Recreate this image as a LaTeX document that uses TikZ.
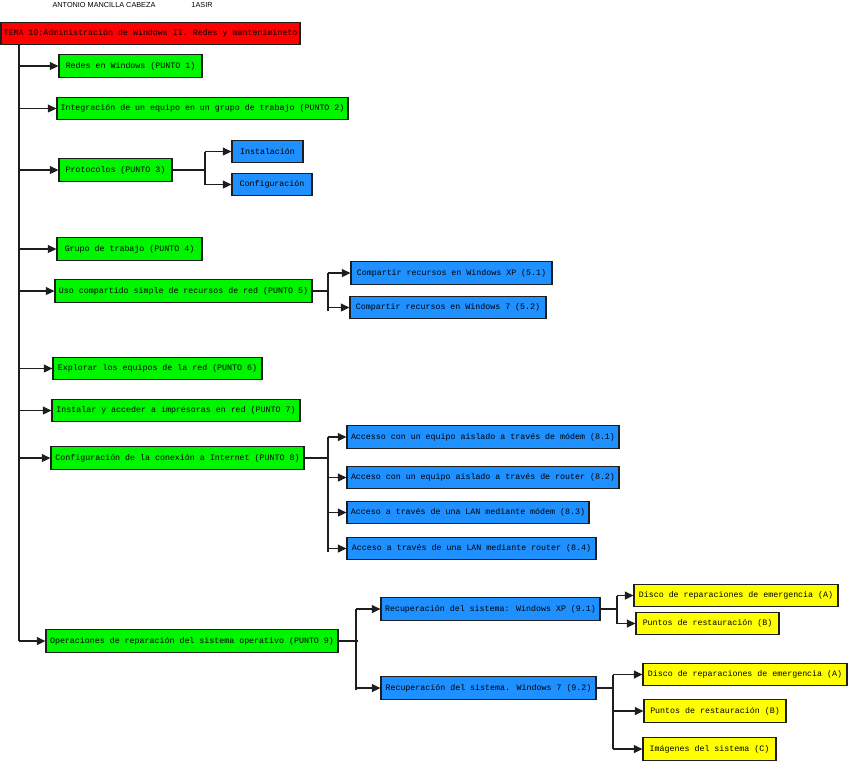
\documentclass[tikz,border=0pt]{standalone}
\usepackage{fontspec}
\newfontfamily\boxfont{Liberation Mono}
\newfontfamily\hdrfont{Liberation Sans}
\usetikzlibrary{arrows.meta}
\definecolor{cred}{RGB}{255,0,0}
\definecolor{cgreen}{RGB}{0,245,0}
\definecolor{cblue}{RGB}{30,144,255}
\definecolor{cyellow}{RGB}{255,255,0}
\definecolor{cline}{RGB}{30,30,30}
\tikzset{
  box/.style={draw=cline, line width=1.3pt, inner sep=0pt, minimum height=22.5pt,
    font=\boxfont\fontsize{8.3}{10}\selectfont, text=black},
  rbox/.style={box, fill=cred},
  gbox/.style={box, fill=cgreen},
  bbox/.style={box, fill=cblue},
  ybox/.style={box, fill=cyellow},
  hdr/.style={font=\hdrfont\fontsize{7.3}{8}\selectfont, inner sep=0pt},
  ln/.style={draw=cline, line width=1.3pt},
  arr/.style={ln, -{Triangle[length=8.5pt,width=8pt]}}
}
\begin{document}
\begin{tikzpicture}[x=1pt,y=-1pt]
\useasboundingbox (0,0) rectangle (848,761);
% header
\node[hdr] (author) at (104,5) {ANTONIO MANCILLA CABEZA};
\node[hdr] (group) at (202,5) {1ASIR};
% title
\node[rbox, minimum width=299pt] (title) at (150.5,33.5) {TEMA 10:Administración de Windows II. Redes y mantenimineto};
% level 1
\node[gbox, minimum width=143pt] (p1) at (130.5,66) {Redes en Windows (PUNTO 1)};
\node[gbox, minimum width=291pt] (p2) at (202.5,108.5) {Integración de un equipo en un grupo de trabajo (PUNTO 2)};
\node[gbox, minimum width=113pt] (p3) at (115.5,170) {Protocolos (PUNTO 3)};
\node[gbox, minimum width=145pt] (p4) at (129.5,249) {Grupo de trabajo (PUNTO 4)};
\node[gbox, minimum width=257pt] (p5) at (183.5,291) {Uso compartido simple de recursos de red (PUNTO 5)};
\node[gbox, minimum width=209pt] (p6) at (157.5,368.5) {Explorar los equipos de la red (PUNTO 6)};
\node[gbox, minimum width=248pt] (p7) at (176,410.5) {Instalar y acceder a impresoras en red (PUNTO 7)};
\node[gbox, minimum width=253pt] (p8) at (177.5,458) {Configuración de la conexión a Internet (PUNTO 8)};
\node[gbox, minimum width=292pt] (p9) at (192,641) {Operaciones de reparación del sistema operativo (PUNTO 9)};
% level 2
\node[bbox, minimum width=71pt] (p3a) at (267.5,151.5) {Instalación};
\node[bbox, minimum width=80pt] (p3b) at (272,184.5) {Configuración};
\node[bbox, minimum width=201pt] (p5a) at (451.5,273) {Compartir recursos en Windows XP (5.1)};
\node[bbox, minimum width=196pt] (p5b) at (448,307.5) {Compartir recursos en Windows 7 (5.2)};
\node[bbox, minimum width=272pt] (p81) at (483,437) {Accesso con un equipo aislado a través de módem (8.1)};
\node[bbox, minimum width=272pt] (p82) at (483,477.5) {Acceso con un equipo aislado a través de router (8.2)};
\node[bbox, minimum width=242pt] (p83) at (468,512.5) {Acceso a través de una LAN mediante módem (8.3)};
\node[bbox, minimum width=249pt] (p84) at (471.5,548.5) {Acceso a través de una LAN mediante router (8.4)};
\node[bbox, minimum width=219pt] (p91) at (490.5,609) {Recuperación del sistema: Windows XP (9.1)};
\node[bbox, minimum width=215pt] (p92) at (488.5,688) {Recuperación del sistema. Windows 7 (9.2)};
% level 3
\node[ybox, minimum width=204pt] (p91a) at (736,595.5) {Disco de reparaciones de emergencia (A)};
\node[ybox, minimum width=143pt] (p91b) at (707.5,623.5) {Puntos de restauración (B)};
\node[ybox, minimum width=204pt] (p92a) at (745,674.5) {Disco de reparaciones de emergencia (A)};
\node[ybox, minimum width=142pt] (p92b) at (715,711) {Puntos de restauración (B)};
\node[ybox, minimum width=133pt] (p92c) at (709.5,749) {Imágenes del sistema (C)};
% trunk
\coordinate (tr) at (19,0);
\draw[ln] (tr |- title.south) -- (tr |- p9.west);
\foreach \n in {p1,p2,p3,p4,p5,p6,p7,p8,p9}
  \draw[arr] (tr |- \n.west) -- (\n.west);
% branch 3
\coordinate (b3) at (205,0);
\draw[ln] (p3.east) -- (b3 |- p3.east);
\draw[ln] (b3 |- p3a.west) -- (b3 |- p3b.west);
\foreach \n in {p3a,p3b} \draw[arr] (b3 |- \n.west) -- (\n.west);
% branch 5
\coordinate (b5) at (328,0);
\draw[ln] (p5.east) -- (b5 |- p5.east);
\draw[ln] (b5 |- p5a.west) -- ([yshift=-3pt]b5 |- p5b.west);
\foreach \n in {p5a,p5b} \draw[arr] (b5 |- \n.west) -- (\n.west);
% branch 8
\coordinate (b8) at (328,0);
\draw[ln] (p8.east) -- (b8 |- p8.east);
\draw[ln] (b8 |- p81.west) -- ([yshift=-3pt]b8 |- p84.west);
\foreach \n in {p81,p82,p83,p84} \draw[arr] (b8 |- \n.west) -- (\n.west);
% branch 9
\coordinate (b9) at (356,0);
\draw[ln] (p9.east) -- ([xshift=2pt]b9 |- p9.east);
\draw[ln] (b9 |- p91.west) -- ([yshift=-2pt]b9 |- p92.west);
\foreach \n in {p91,p92} \draw[arr] (b9 |- \n.west) -- (\n.west);
% branch 9.1
\coordinate (b91) at (617,0);
\draw[ln] (p91.east) -- (b91 |- p91.east);
\draw[ln] (b91 |- p91a.west) -- (b91 |- p91b.west);
\foreach \n in {p91a,p91b} \draw[arr] (b91 |- \n.west) -- (\n.west);
% branch 9.2
\coordinate (b92) at (613,0);
\draw[ln] (p92.east) -- (b92 |- p92.east);
\draw[ln] (b92 |- p92a.west) -- (b92 |- p92c.west);
\foreach \n in {p92a,p92b,p92c} \draw[arr] (b92 |- \n.west) -- (\n.west);
\end{tikzpicture}
\end{document}
